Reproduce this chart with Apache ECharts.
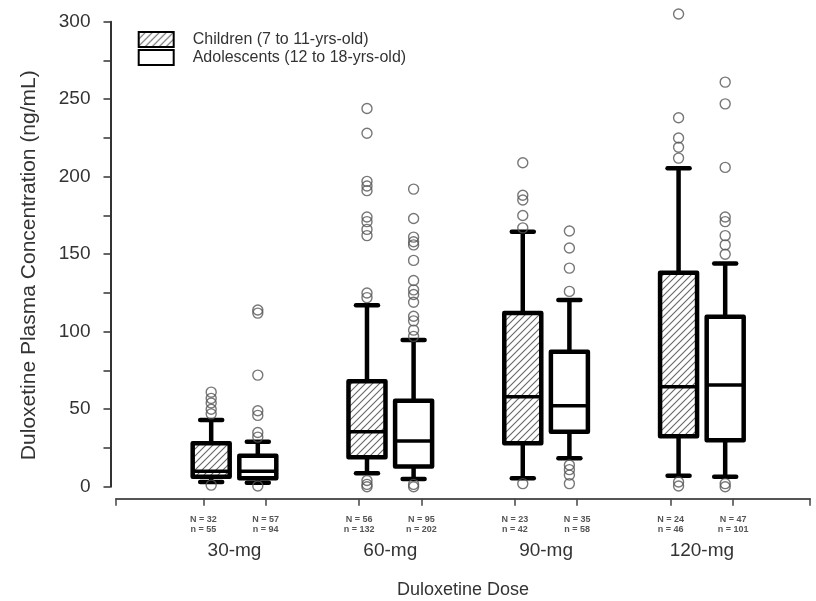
<!DOCTYPE html>
<html><head><meta charset="utf-8">
<script src="https://cdn.jsdelivr.net/npm/echarts@6/dist/echarts.min.js"></script>
<style>html,body{margin:0;padding:0;background:#fff}#c{width:816px;height:601px}</style>
</head><body><div id="c"></div>
<script>
const categories = ['30-mg', '60-mg', '90-mg', '120-mg'];
const seriesNames = ['Children (7 to 11-yrs-old)', 'Adolescents (12 to 18-yrs-old)'];
// [lower whisker, Q1, median, Q3, upper whisker]
const childrenBox = [
  [3, 6.5, 10, 28, 43],
  [8.6, 19, 35.5, 68, 117],
  [5.5, 28, 58, 112, 164.5],
  [7, 32.5, 64.5, 138, 205.5]
];
const adolBox = [
  [2.6, 5.5, 10, 20, 29],
  [5, 13, 29.5, 55.5, 94.6],
  [18.3, 35.5, 52.3, 87, 120.5],
  [6.5, 30, 65.6, 109.7, 144]
];
const childrenOut = [
  [61, 57, 54, 50, 47, 1],
  [244, 228, 197, 194, 191, 174, 171, 166, 162, 125, 122, 4, 1.5, 0],
  [209, 188, 185, 175, 167, 2],
  [305, 238, 225, 219, 212, 3, 0.5]
];
const adolOut = [
  [114, 112, 72, 49, 46, 35, 32, 0.5],
  [192, 173, 161, 158, 156, 146, 133, 127, 124, 119, 110, 107, 101, 97, 1.5, 0],
  [165, 154, 141, 126, 14, 11, 7.5, 2],
  [261, 247, 206, 174, 171, 162, 156, 150, 2, 0]
];
const childrenN = [32, 56, 23, 24];
const childrenSmallN = [55, 132, 42, 46];
const adolN = [57, 95, 35, 47];
const adolSmallN = [94, 202, 58, 101];

// layout / style constants
const BOX_OFFSET = 0.1496, TICK_OFFSET = 0.2;
const X_MIN = -0.7606, X_MAX = 3.694;
const BOX_W = 37, CAP_W = 22;

function hatchPattern() {
  const c = document.createElement('canvas');
  c.width = 7; c.height = 7;
  const g = c.getContext('2d');
  g.strokeStyle = '#666'; g.lineWidth = 1.1;
  g.beginPath();
  g.moveTo(0, 7); g.lineTo(7, 0);
  g.moveTo(-1, 1); g.lineTo(1, -1);
  g.moveTo(6, 8); g.lineTo(8, 6);
  g.stroke();
  return { image: c, repeat: 'repeat' };
}
const HATCH = hatchPattern();

function makeRender(offset, fill) {
  return function (params, api) {
    const x = api.value(0) + offset;
    const pMin = api.coord([x, api.value(1)]);
    const pQ1 = api.coord([x, api.value(2)]);
    const pMed = api.coord([x, api.value(3)]);
    const pQ3 = api.coord([x, api.value(4)]);
    const pMax = api.coord([x, api.value(5)]);
    const cx = pMin[0];
    const hw = BOX_W / 2, cw = CAP_W / 2;
    const ls = { stroke: '#000', lineWidth: 4.5 };
    const cs = { stroke: '#000', lineWidth: 4.5, lineCap: 'round' };
    return {
      type: 'group', children: [
        { type: 'line', shape: { x1: cx, y1: pQ3[1], x2: cx, y2: pMax[1] }, style: ls },
        { type: 'line', shape: { x1: cx, y1: pQ1[1], x2: cx, y2: pMin[1] }, style: ls },
        { type: 'line', shape: { x1: cx - cw, y1: pMax[1], x2: cx + cw, y2: pMax[1] }, style: cs },
        { type: 'line', shape: { x1: cx - cw, y1: pMin[1], x2: cx + cw, y2: pMin[1] }, style: cs },
        { type: 'rect', shape: { x: cx - hw, y: pQ3[1], width: BOX_W, height: pQ1[1] - pQ3[1] },
          style: { fill: fill, stroke: '#000', lineWidth: 4.5, lineJoin: 'round' } },
        { type: 'line', shape: { x1: cx - hw, y1: pMed[1], x2: cx + hw, y2: pMed[1] }, style: { stroke: '#000', lineWidth: 3.5 } }
      ]
    };
  };
}

const tickVals = [X_MIN];
const labelVals = [];
const labelTexts = [];
categories.forEach((c, i) => {
  tickVals.push(i - TICK_OFFSET, i + TICK_OFFSET);
  labelVals.push(i - TICK_OFFSET, i + TICK_OFFSET);
  labelTexts.push('N = ' + childrenN[i] + '\nn = ' + childrenSmallN[i]);
  labelTexts.push('N = ' + adolN[i] + '\nn = ' + adolSmallN[i]);
});
tickVals.push(X_MAX);
function nLabel(v) {
  let best = 0, bd = 1e9;
  labelVals.forEach((lv, k) => { const d = Math.abs(lv - v); if (d < bd) { bd = d; best = k; } });
  return labelTexts[best];
}

const outStyle = { color: 'rgba(0,0,0,0)', borderColor: '#555', borderWidth: 1.4 };

const option = {
  animation: false,
  backgroundColor: '#fff',
  textStyle: { fontFamily: 'Liberation Sans, Arial, sans-serif' },
  grid: { left: 116, right: 6, top: 21.7, bottom: 114.3, outerBoundsMode: 'none' },
  legend: {
    orient: 'vertical', left: 132.7, top: 26, itemWidth: 35, itemHeight: 15, itemGap: 1,
    selectedMode: false,
    data: [
      { name: seriesNames[0], icon: 'rect', itemStyle: { color: HATCH, borderColor: '#000', borderWidth: 2 } },
      { name: seriesNames[1], icon: 'rect', itemStyle: { color: '#fff', borderColor: '#000', borderWidth: 2 } }
    ],
    textStyle: { fontSize: 16, color: '#333', padding: [0, 0, 0, 14], lineHeight: 16 }
  },
  xAxis: [
    {
      type: 'value', min: X_MIN, max: X_MAX, offset: 12, position: 'bottom',
      axisLine: { show: true, onZero: false, lineStyle: { color: '#555', width: 2 } },
      axisTick: { show: true, customValues: tickVals, length: 7, lineStyle: { color: '#444', width: 1.5 } },
      axisLabel: { show: true, customValues: labelVals, formatter: nLabel, fontSize: 9, fontWeight: 'bold',
        color: '#555', lineHeight: 10, margin: 16 },
      splitLine: { show: false }
    },
    {
      type: 'value', min: X_MIN, max: X_MAX, offset: 12, position: 'bottom',
      axisLine: { show: false, onZero: false }, axisTick: { show: false },
      axisLabel: { show: true, customValues: [0, 1, 2, 3], formatter: v => categories[Math.round(v)],
        fontSize: 19, color: '#333', margin: 43 },
      splitLine: { show: false },
      name: 'Duloxetine Dose', nameLocation: 'middle', nameGap: 82,
      nameTextStyle: { fontSize: 18, color: '#333' }
    }
  ],
  yAxis: {
    type: 'value', min: 0, max: 300, interval: 50, offset: 5.5, position: 'left',
    axisLine: { show: true, onZero: false, lineStyle: { color: '#333', width: 2 } },
    axisTick: { show: true, length: 7, lineStyle: { color: '#333', width: 1.5 } },
    minorTick: { show: true, splitNumber: 2, length: 7, lineStyle: { color: '#333', width: 1.5 } },
    axisLabel: { fontSize: 19, color: '#333', margin: 20 },
    splitLine: { show: false }, minorSplitLine: { show: false },
    name: 'Duloxetine Plasma Concentration (ng/mL)', nameLocation: 'middle', nameGap: 71,
    nameTextStyle: { fontSize: 21, color: '#333', padding: [0, 22, 0, 0] }
  },
  series: [
    {
      name: seriesNames[0], type: 'custom', xAxisIndex: 0, yAxisIndex: 0, z: 2,
      itemStyle: { color: HATCH, borderColor: '#000', borderWidth: 2 },
      renderItem: makeRender(-BOX_OFFSET, HATCH),
      encode: { x: 0, y: [1, 2, 3, 4, 5] },
      data: childrenBox.map((b, i) => [i].concat(b))
    },
    {
      name: seriesNames[1], type: 'custom', xAxisIndex: 0, yAxisIndex: 0, z: 2,
      itemStyle: { color: '#fff', borderColor: '#000', borderWidth: 2 },
      renderItem: makeRender(BOX_OFFSET, '#fff'),
      encode: { x: 0, y: [1, 2, 3, 4, 5] },
      data: adolBox.map((b, i) => [i].concat(b))
    },
    {
      name: 'childrenOutliers', type: 'scatter', z: 3, clip: false, symbol: 'circle', symbolSize: 10,
      itemStyle: outStyle, silent: true,
      data: childrenOut.flatMap((arr, i) => arr.map(v => [i - BOX_OFFSET, v]))
    },
    {
      name: 'adolOutliers', type: 'scatter', z: 3, clip: false, symbol: 'circle', symbolSize: 10,
      itemStyle: outStyle, silent: true,
      data: adolOut.flatMap((arr, i) => arr.map(v => [i + BOX_OFFSET, v]))
    }
  ]
};
const chart = echarts.init(document.getElementById('c'), null, { renderer: 'canvas' });
chart.setOption(option);
</script>
</body></html>
